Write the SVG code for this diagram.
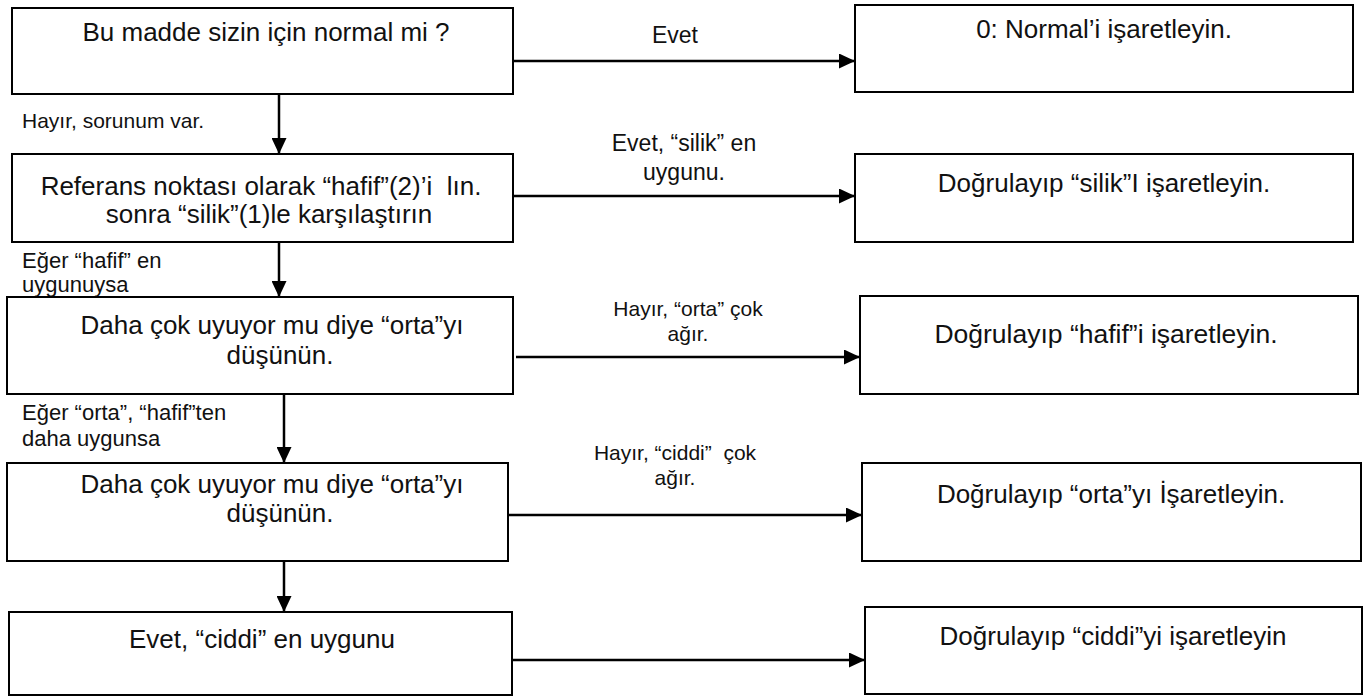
<svg xmlns="http://www.w3.org/2000/svg" width="1364" height="697" viewBox="0 0 1364 697">
<style>
  .box { fill: #fff; stroke: #000; stroke-width: 2; }
  .t { font-family: "Liberation Sans", Arial, sans-serif; font-size: 26px; fill: #111; text-anchor: middle; white-space: pre; }
  .lbl { font-family: "Liberation Sans", Arial, sans-serif; font-size: 22px; fill: #111; white-space: pre; }
  .lm { text-anchor: middle; }
  .sm { font-size: 21px; }
  .conn { fill: none; stroke: #000; stroke-width: 2.5; }
</style>
<defs>
  <marker id="ah" markerUnits="userSpaceOnUse" markerWidth="16" markerHeight="15" refX="16" refY="7.5" orient="auto">
    <path d="M0,0 L16,7.5 L0,15 Z" fill="#000"/>
  </marker>
</defs>
<rect width="1364" height="697" fill="#fff"/>

<g id="connectors">
  <line class="conn" x1="513" y1="61" x2="855" y2="61" marker-end="url(#ah)"/>
  <line class="conn" x1="513" y1="196" x2="855" y2="196" marker-end="url(#ah)"/>
  <line class="conn" x1="516" y1="357" x2="860" y2="357" marker-end="url(#ah)"/>
  <line class="conn" x1="508" y1="515" x2="862" y2="515" marker-end="url(#ah)"/>
  <line class="conn" x1="513" y1="660" x2="865" y2="660" marker-end="url(#ah)"/>
  <line class="conn" x1="279" y1="95" x2="279" y2="154" marker-end="url(#ah)"/>
  <line class="conn" x1="279" y1="242" x2="279" y2="297" marker-end="url(#ah)"/>
  <line class="conn" x1="284" y1="394" x2="284" y2="463" marker-end="url(#ah)"/>
  <line class="conn" x1="284" y1="561" x2="284" y2="612" marker-end="url(#ah)"/>
  <text class="lbl lm" x="675" y="43" style="font-size:23px">Evet</text>
  <text class="lbl lm" x="684" y="151" style="font-size:23px">Evet, “silik” en</text>
  <text class="lbl lm" x="684" y="180" style="font-size:23px">uygunu.</text>
  <text class="lbl lm sm" x="688" y="316">Hayır, “orta” çok</text>
  <text class="lbl lm sm" x="688" y="341">ağır.</text>
  <text class="lbl lm sm" x="675" y="460">Hayır, “ciddi”  çok</text>
  <text class="lbl lm sm" x="675" y="485">ağır.</text>
  <text class="lbl sm" x="22" y="128">Hayır, sorunum var.</text>
  <text class="lbl" x="22" y="268">Eğer “hafif” en</text>
  <text class="lbl" x="22" y="292">uygunuysa</text>
  <text class="lbl" x="22" y="420">Eğer “orta”, “hafif”ten</text>
  <text class="lbl" x="22" y="446">daha uygunsa</text>
</g>

<g id="q1">
  <rect class="box" x="12" y="8" width="501" height="86"/>
  <text class="t" x="266" y="41">Bu madde sizin için normal mi ?</text>
</g>
<g id="a1">
  <rect class="box" x="855" y="5" width="498" height="87"/>
  <text class="t" x="1104" y="38">0: Normal’i işaretleyin.</text>
</g>
<g id="q2">
  <rect class="box" x="12" y="154" width="501" height="88"/>
  <text class="t" x="261" y="195">Referans noktası olarak “hafif”(2)’i  lın.</text>
  <text class="t" x="269" y="223">sonra “silik”(1)le karşılaştırın</text>
</g>
<g id="a2">
  <rect class="box" x="855" y="154" width="498" height="88"/>
  <text class="t" x="1104" y="192">Doğrulayıp “silik”I işaretleyin.</text>
</g>
<g id="q3">
  <rect class="box" x="7" y="297" width="506" height="97"/>
  <text class="t" x="272" y="334">Daha çok uyuyor mu diye “orta”yı</text>
  <text class="t" x="280" y="364">düşünün.</text>
</g>
<g id="a3">
  <rect class="box" x="860" y="296" width="498" height="98"/>
  <text class="t" x="1106" y="343" style="font-size:26.5px">Doğrulayıp “hafif”i işaretleyin.</text>
</g>
<g id="q4">
  <rect class="box" x="7" y="463" width="501" height="98"/>
  <text class="t" x="272" y="493">Daha çok uyuyor mu diye “orta”yı</text>
  <text class="t" x="280" y="522">düşünün.</text>
</g>
<g id="a4">
  <rect class="box" x="862" y="463" width="499" height="98"/>
  <text class="t" x="1111" y="503">Doğrulayıp “orta”yı İşaretleyin.</text>
</g>
<g id="q5">
  <rect class="box" x="9" y="612" width="503" height="83"/>
  <text class="t" x="262" y="648">Evet, “ciddi” en uygunu</text>
</g>
<g id="a5">
  <rect class="box" x="865" y="607" width="497" height="87"/>
  <text class="t" x="1113" y="645">Doğrulayıp “ciddi”yi işaretleyin</text>
</g>
</svg>
